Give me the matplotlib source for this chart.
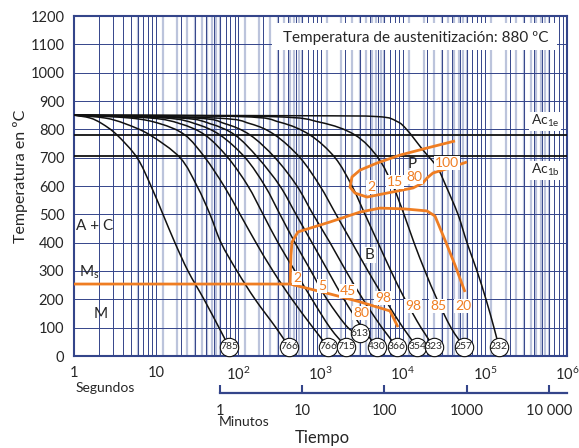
"""CCT diagram (curvas de enfriamiento continuo) - recreation."""

import matplotlib

matplotlib.use("Agg")

import matplotlib.pyplot as plt
import numpy as np
from matplotlib.patches import PathPatch, Rectangle
from matplotlib.path import Path
from matplotlib.ticker import NullLocator

plt.rcParams["font.family"] = ["Lato", "DejaVu Sans"]
plt.rcParams["mathtext.fontset"] = "custom"
plt.rcParams["mathtext.rm"] = "Lato"
plt.rcParams["mathtext.it"] = "Lato:italic"
plt.rcParams["mathtext.default"] = "regular"

NAVY = "#34458a"
LIGHT = "#bcc4dc"
ORANGE = "#ef7d22"
TXT = "#262626"

# ---- data: cooling curves (time in s, temperature in ºC) ----
c1_t = [1, 1.57, 2.19, 3.34, 5.85, 8.65, 12.1, 16.9, 24.4, 38.2, 58.2, 77]
c1_T = [850, 840, 820, 780, 700, 600, 500, 400, 300, 200, 100, 32]
c2_t = [1, 2.38, 4.18, 8.41, 19.5, 31.4, 45.2, 61.5, 96.3, 160, 287, 414]
c2_T = [850, 840, 820, 780, 700, 600, 500, 400, 300, 200, 100, 32]
c3_t = [1, 4.8, 11.1, 22.4, 39.3, 66.9, 105, 164, 264, 450, 811, 1233]
c3_T = [850, 840, 820, 780, 700, 600, 500, 400, 300, 200, 100, 32]
c4_t = [1, 8.4, 19.5, 39.3, 74.8, 131, 200, 304, 489, 788, 1305, 2043]
c4_T = [850, 840, 820, 780, 700, 600, 500, 400, 300, 200, 100, 32]
c5_t = [1, 12.8, 29.7, 59.8, 121, 211, 321, 489, 766, 1200, 2160, 3025]
c5_T = [850, 840, 820, 780, 700, 600, 500, 400, 300, 200, 100, 81]
c6_t = [1, 19.5, 45.2, 91, 173, 321, 503, 788, 1233, 1932, 3200, 4870]
c6_T = [850, 840, 820, 780, 700, 600, 500, 400, 300, 200, 100, 32]
c7_t = [1, 29.7, 68.8, 139, 279, 517, 811, 1305, 2043, 3290, 5600, 8530]
c7_T = [850, 840, 820, 780, 700, 600, 500, 400, 300, 200, 100, 32]
c8_t = [1, 52, 139, 279, 563, 986, 1543, 2417, 3784, 6095, 10090, 14940]
c8_T = [850, 840, 820, 780, 700, 600, 500, 400, 300, 200, 100, 32]
c9_t = [1, 105, 321, 745, 1501, 2417, 3478, 5010, 7208, 10670, 16710, 24050]
c9_T = [850, 845, 825, 780, 700, 600, 500, 400, 300, 200, 100, 32]
c10_t = [1, 243, 986, 2630, 5010, 7620, 10380, 13740, 18700, 26180, 38730, 55720]
c10_T = [850, 845, 825, 780, 700, 600, 500, 400, 300, 200, 100, 32]
c11_t = [1, 563, 4900, 8500, 11290, 17660, 26180, 33650, 47100, 60640, 80330,
         103300, 129200, 148600]
c11_T = [850, 848, 845, 828, 798, 727, 667, 600, 500, 400, 300, 200, 100, 32]

hardness = ["785", "766", "766", "715", "613", "430", "366", "354", "323", "257", "232"]

# ---- transformation lines ----
ms_t = [1, 426, 1305, 3025, 7015, 8770]
ms_T = [254, 254, 219, 191, 159, 102]
bain_t = [426, 437, 450, 532, 1305, 3025, 5300, 10670, 19770, 24730, 32750, 43340, 57340]
bain_T = [254, 356, 402, 438, 473, 508, 522, 519, 512, 494, 409, 321, 226]
pearl_t = [43340, 19770, 9270, 4870, 3025, 2417, 2285, 2630, 3680, 6440, 13360,
           17660, 19770, 23390, 37670, 60640]
pearl_T = [759, 734, 709, 681, 656, 632, 596, 575, 561, 575, 593, 611, 628, 646,
           664, 685]

ac1e = 780
ac1b = 705

y_ticks = list(range(0, 1300, 100))
x_ticks = [1, 10, 1e2, 1e3, 1e4, 1e5, 1e6]
x_labels = ["1", "10", "$10^{2}$", "$10^{3}$", "$10^{4}$", "$10^{5}$", "$10^{6}$"]
min_ticks = [1, 10, 100, 1000, 10000]
min_labels = ["1", "10", "100", "1000", "10 000"]

curves = [(c1_t, c1_T), (c2_t, c2_T), (c3_t, c3_T), (c4_t, c4_T), (c5_t, c5_T),
          (c6_t, c6_T), (c7_t, c7_T), (c8_t, c8_T), (c9_t, c9_T), (c10_t, c10_T),
          (c11_t, c11_T)]


def smooth_path(t, T):
    """Bezier path through the read points (Catmull-Rom control points)."""
    # work in a space with the chart's aspect (1 decade ~ 290 ºC)
    u = np.log10(np.asarray(t, float)) * 290.0
    v = np.asarray(T, float)
    p = np.column_stack([u, v])
    p_ext = np.vstack([p[0], p, p[-1]])
    verts = [p[0]]
    codes = [Path.MOVETO]
    for i in range(1, len(p_ext) - 2):
        b1 = p_ext[i] + (p_ext[i + 1] - p_ext[i - 1]) / 6.0
        b2 = p_ext[i + 1] - (p_ext[i + 2] - p_ext[i]) / 6.0
        verts += [b1, b2, p_ext[i + 1]]
        codes += [Path.CURVE4] * 3
    verts = np.array(verts)
    verts[:, 0] = 10 ** (verts[:, 0] / 290.0)
    return Path(verts, codes)


W, H = 579, 448
fig = plt.figure(figsize=(W / 100, H / 100), dpi=100)
ax = fig.add_axes([74 / W, 1 - 356 / H, (567 - 74) / W, (356 - 16) / H])
ax.set_xscale("log")
ax.set_xlim(1, 1e6)
ax.set_ylim(0, 1200)

# grid: seconds (navy, thin) and minutes (light, thicker)
sec_lines = [k * 10 ** n for n in range(6) for k in range(2, 10)] + [10 ** n for n in range(1, 6)]
min_lines = [60 * k * 10 ** n for n in range(5) for k in range(1, 10) if 60 * k * 10 ** n < 1e6]
min_lines += [6 * k for k in range(1, 10)]
ax.vlines(min_lines, 0, 1200, color=LIGHT, lw=1.6, zorder=0)
ax.vlines(sec_lines, 0, 1200, color=NAVY, lw=0.7, zorder=0.5)
ax.hlines(y_ticks[1:-1], 1, 1e6, color=NAVY, lw=0.7, zorder=0.5)

# title box
ax.add_patch(Rectangle((257, 1080), 755000 - 257, 95, facecolor="white",
                       edgecolor="none", zorder=2))
ax.text(349, 1124, "Temperatura de austenitización: 880 ºC", fontsize=11,
        color=TXT, va="center", ha="left", zorder=3)

# Ac lines
ax.hlines([ac1e, ac1b], 1, 1e6, color="#111111", lw=1.3, zorder=3)
ax.text(540000, 828, "Ac$_{1e}$", fontsize=10, ha="center", va="center", color=TXT,
        zorder=4, bbox=dict(facecolor="white", edgecolor="none", pad=1))
ax.text(540000, 656, "Ac$_{1b}$", fontsize=10, ha="center", va="center", color=TXT,
        zorder=4, bbox=dict(facecolor="white", edgecolor="none", pad=1))

# cooling curves
for t, T in curves:
    ax.add_patch(PathPatch(smooth_path(t, T), facecolor="none", edgecolor="#111111",
                           lw=1.1, zorder=4))

# transformation lines
for t, T in [(ms_t, ms_T), (bain_t, bain_T), (pearl_t, pearl_T)]:
    ax.plot(t, T, color=ORANGE, lw=2.0, zorder=5, solid_joinstyle="round",
            solid_capstyle="butt")

# hardness circles
end_t = [c[0][-1] for c in curves]
end_T = [c[1][-1] for c in curves]
ax.scatter(end_t, end_T, s=175, facecolor="white", edgecolor="#111111", lw=0.8,
           zorder=6, clip_on=False)
for t, T, h in zip(end_t, end_T, hardness):
    ax.text(t, T, h, fontsize=7.5, ha="center", va="center", color=TXT, zorder=7)

# phase labels
box = dict(facecolor="white", edgecolor="none", pad=0.6)
ax.text(1.05, 459, "A + C", fontsize=11, ha="left", va="center", color=TXT)
ax.text(1.15, 296, "M$_{s}$", fontsize=11, ha="left", va="center", color=TXT)
ax.text(1.75, 148, "M", fontsize=11, ha="left", va="center", color=TXT)
ax.text(12980, 678, "P", fontsize=11, ha="center", va="center", color=TXT, zorder=6)
ax.text(4000, 356, "B", fontsize=11, ha="center", va="center", color=TXT, zorder=6,
        bbox=box)

orange_labels = [(4115, 596, "2"), (8070, 614, "15"), (13740, 632, "80"),
                 (34600, 681, "100"), (517, 275, "2"), (1042, 247, "5"),
                 (2160, 229, "45"), (5770, 205, "98"), (3110, 152, "80"),
                 (13360, 176, "98"), (26900, 176, "85"), (54200, 176, "20")]
for t, T, s in orange_labels:
    ax.text(t, T, s, fontsize=10, ha="center", va="center", color=ORANGE, zorder=6,
            bbox=box)

# axes style
for sp in ax.spines.values():
    sp.set_color(NAVY)
    sp.set_linewidth(1.5)
ax.set_yticks(y_ticks)
ax.set_xticks(x_ticks)
ax.set_xticklabels(x_labels)
ax.xaxis.set_minor_locator(NullLocator())
ax.tick_params(length=0, labelsize=10.5, labelcolor=TXT)
ax.tick_params(axis="y", pad=7)
ax.tick_params(axis="x", pad=7)

# minutes axis
ax2 = fig.add_axes([74 / W, 1 - 393 / H, (567 - 74) / W, 0.0001])
ax2.set_xscale("log")
ax2.set_xlim(1, 1e6)
ax2.patch.set_visible(False)
for name in ["left", "right", "top"]:
    ax2.spines[name].set_visible(False)
ax2.spines["bottom"].set_color(NAVY)
ax2.spines["bottom"].set_linewidth(1.6)
ax2.spines["bottom"].set_bounds(60, 1e6)
ax2.set_yticks([])
ax2.set_xticks([m * 60 for m in min_ticks])
ax2.set_xticklabels(min_labels)
ax2.xaxis.set_minor_locator(NullLocator())
ax2.tick_params(axis="x", direction="in", length=6, width=1.5, color=NAVY,
                labelsize=10.5, labelcolor=TXT, pad=8)

fig.text(76 / W, 1 - 388 / H, "Segundos", fontsize=10, color=TXT, va="center")
fig.text(219 / W, 1 - 422 / H, "Minutos", fontsize=10, color=TXT, va="center")
fig.text(322 / W, 1 - 438 / H, "Tiempo", fontsize=12, color=TXT, va="center",
         ha="center")
fig.text(21 / W, 1 - 176 / H, "Temperatura en ºC", fontsize=11.5, color=TXT,
         rotation=90, va="center", ha="center")

fig.savefig("out.png", dpi=100)
